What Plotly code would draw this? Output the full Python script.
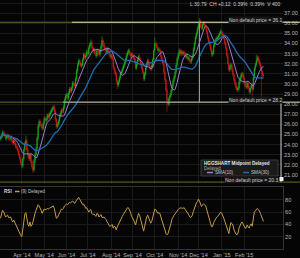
import numpy as np
import pandas as pd
import plotly.graph_objects as go

# ---------------- data ----------------
start_date = "2014-03-03"
first_open = 24.6
closes = [
    24.7, 24.9, 25.2, 25.1, 24.9, 24.6, 24.8, 24.9, 24.6, 24.6,
    24.7, 24.4, 24.2, 24.4, 24.1, 23.8, 23.7, 23.4, 23.0, 22.6,
    22.2, 21.9, 22.6, 23.5, 24.1, 24.4, 23.5, 22.9, 22.6, 23.0,
    22.3, 21.8, 21.5, 22.4, 23.0, 23.6, 24.6, 25.8, 26.3, 26.0,
    25.8, 25.6, 26.1, 26.6, 26.4, 26.5, 26.9, 26.7, 27.0, 27.2,
    27.4, 27.6, 27.7, 27.3, 26.5, 25.8, 26.0, 26.3, 26.8, 27.1,
    27.4, 27.3, 27.7, 28.4, 28.8, 28.9, 28.6, 29.1, 29.5, 29.3,
    29.6, 30.1, 30.0, 29.8, 30.5, 31.3, 31.9, 32.3, 32.1, 31.8,
    31.9, 32.4, 32.9, 32.6, 32.8, 33.2, 33.0, 33.6, 33.9, 34.1,
    33.6, 33.3, 33.4, 33.0, 32.8, 33.3, 33.2, 32.9, 33.3, 33.7,
    34.3, 34.0, 33.6, 33.4, 33.1, 33.5, 33.2, 32.9, 32.7, 32.8,
    32.5, 31.6, 31.3, 31.0, 30.3, 29.9, 30.2, 30.6, 31.0, 31.2,
    31.5, 31.8, 32.1, 32.4, 32.8, 33.1, 33.3, 33.0, 32.8, 32.9,
    32.8, 32.6, 32.3, 31.6, 32.0, 32.4, 32.7, 32.4, 32.0, 31.6,
    31.2, 30.5, 31.0, 31.6, 32.0, 32.3, 31.9, 31.6, 31.5, 31.8,
    32.4, 33.3, 34.0, 33.9, 33.6, 33.3, 33.4, 33.2, 32.7, 32.3,
    32.0, 31.2, 30.4, 29.4, 28.4, 28.0, 28.6, 28.9, 29.3, 29.8,
    30.3, 30.7, 31.2, 31.9, 32.5, 32.9, 33.3, 33.0, 33.2, 33.0,
    33.1, 33.0, 32.7, 32.8, 32.5, 32.6, 32.3, 32.2, 32.5, 32.8,
    33.4, 34.0, 34.6, 35.0, 35.5, 35.9, 36.2, 35.7, 35.5, 35.9,
    36.0, 35.8, 35.6, 35.1, 34.6, 34.2, 33.9, 33.4, 32.9, 33.1,
    33.8, 34.2, 34.4, 34.5, 34.6, 34.8, 35.0, 35.2, 35.0, 34.8,
    34.5, 34.0, 33.5, 32.8, 32.0, 31.4, 31.7, 31.9, 31.4, 30.9,
    30.4, 30.0, 29.6, 29.4, 29.6, 30.2, 30.6, 30.9, 31.0, 30.6,
    30.1, 29.8, 29.7, 30.1, 29.6, 29.2, 29.6, 29.9, 29.5, 30.6,
    31.5, 31.9, 32.3, 32.6, 32.3, 32.0, 31.6, 31.2, 30.9, 30.79,
]
high_spikes = {25: 24.9, 89: 34.4, 100: 34.7, 152: 34.6, 196: 36.5, 252: 32.9}
low_spikes = {32: 21.2, 115: 29.5, 164: 27.2, 248: 28.4, 257: 28.7}
rsi_values = [
    50, 56, 63, 61, 57, 52, 54, 55, 51, 51,
    52, 47, 44, 47, 43, 39, 37, 33, 28, 25,
    22, 20, 33, 50, 57, 59, 47, 40, 37, 44,
    37, 39, 44, 53, 58, 63, 70, 72, 70, 67,
    63, 58, 62, 65, 64, 64, 66, 65, 66, 67,
    69, 70, 70, 66, 57, 50, 51, 54, 59, 62,
    65, 64, 66, 70, 72, 73, 72, 74, 76, 75,
    76, 78, 76, 74, 77, 80, 82, 84, 81, 78,
    73, 72, 73, 69, 66, 67, 64, 60, 63, 64,
    58, 56, 57, 54, 53, 58, 57, 52, 55, 56,
    51, 51, 52, 50, 48, 44, 42, 38, 37, 38,
    40, 34, 37, 36, 31, 36, 40, 43, 47, 50,
    53, 56, 59, 62, 66, 67, 67, 64, 60, 54,
    51, 47, 44, 39, 47, 54, 58, 55, 47, 39,
    34, 29, 37, 46, 52, 55, 50, 44, 42, 45,
    52, 60, 65, 64, 61, 58, 59, 58, 52, 47,
    44, 37, 31, 25, 23, 25, 30, 36, 42, 49,
    53, 55, 57, 60, 63, 64, 66, 67, 67, 66,
    67, 67, 64, 62, 60, 57, 54, 51, 52, 55,
    61, 66, 72, 75, 77, 81, 78, 74, 69, 72,
    73, 72, 71, 65, 58, 51, 46, 41, 36, 37,
    43, 47, 50, 52, 53, 55, 58, 60, 58, 55,
    50, 45, 40, 34, 29, 25, 36, 43, 41, 39,
    31, 27, 24, 23, 26, 34, 39, 42, 44, 40,
    36, 34, 34, 39, 36, 34, 39, 41, 37, 50,
    60, 62, 64, 66, 64, 62, 58, 53, 49, 45,
]
tick_months = ["2014-04", "2014-05", "2014-06", "2014-07", "2014-08", "2014-09",
               "2014-10", "2014-11", "2014-12", "2015-01", "2015-02"]
tick_labels = ["Apr '14", "May '14", "Jun '14", "Jul '14", "Aug '14", "Sep '14",
               "Oct '14", "Nov '14", "Dec '14", "Jan '15", "Feb '15"]
price_ticks = list(range(21, 39))
rsi_ticks = [20, 40, 60, 80]
price_levels = [36.1, 28.2, 20.3]
level_labels = ["Non default price = 36.1", "Non default price = 28.2", "Non default price = 20.3"]
quote_text = "L 30.79  CH +0.12  0.39%  0.39%  V 400"
title_text = "HGGSHART Midpoint Delayed"

# ---------------- derived ----------------
n = len(closes)
dates = pd.bdate_range(start_date, periods=n)
idx = list(range(n))
opens = [first_open] + closes[:-1]
highs = [high_spikes.get(i, max(o, c) + 0.2) for i, (o, c) in enumerate(zip(opens, closes))]
lows = [low_spikes.get(i, min(o, c) - 0.2) for i, (o, c) in enumerate(zip(opens, closes))]
s = pd.Series(closes)
sma10 = s.rolling(10, min_periods=1).mean()
sma30 = s.rolling(30, min_periods=1).mean()
month_keys = np.array(dates.strftime("%Y-%m"))
tick_idx = [int(np.argmax(month_keys == m)) for m in tick_months]

W, H = 300, 258
def px(x):
    return x / W
def py(y):
    return 1 - y / H

GREEN = "#21c321"
RED = "#e5231b"
PURPLE = "#9b7fcc"
BLUE = "#1d6db2"
GOLD = "#c39b48"
GRID = "#1b1b1b"
TXT = "#b9b9b9"
FONT = "Liberation Sans, Arial, sans-serif"

fig = go.Figure()
fig.add_trace(go.Candlestick(
    x=idx, open=opens, high=highs, low=lows, close=closes,
    increasing=dict(line=dict(color=GREEN, width=0.5), fillcolor=GREEN),
    decreasing=dict(line=dict(color=RED, width=0.5), fillcolor=RED),
    whiskerwidth=0, showlegend=False, hoverinfo="skip",
    xaxis="x", yaxis="y"))
fig.add_trace(go.Scatter(x=idx, y=sma10, mode="lines", line=dict(color=PURPLE, width=1),
                         showlegend=False, xaxis="x", yaxis="y"))
fig.add_trace(go.Scatter(x=idx, y=sma30, mode="lines", line=dict(color=BLUE, width=1.3),
                         showlegend=False, xaxis="x", yaxis="y"))
fig.add_trace(go.Scatter(x=idx, y=rsi_values, mode="lines", line=dict(color=GOLD, width=1),
                         showlegend=False, xaxis="x2", yaxis="y2"))

xdom = [0, 283 / W]
xrange_ = [-0.5, 278.3]

shapes = []
for lv in price_levels:
    shapes.append(dict(type="line", xref="paper", yref="y", x0=0, x1=1, y0=lv, y1=lv,
                       line=dict(color="#6e6a2b", width=1), layer="above"))
shapes.append(dict(type="line", xref="paper", yref="y", x0=px(72), x1=1, y0=price_levels[0], y1=price_levels[0],
                   line=dict(color="#d8d5b4", width=1), layer="above"))
shapes.append(dict(type="line", xref="paper", yref="y", x0=px(63), x1=1, y0=price_levels[1], y1=price_levels[1],
                   line=dict(color="#b3b3b3", width=1), layer="above"))
shapes.append(dict(type="line", xref="x", yref="y", x0=196, x1=196, y0=price_levels[1], y1=price_levels[0],
                   line=dict(color="#9a9a9a", width=1), layer="above"))
shapes.append(dict(type="line", xref="paper", yref="y", x0=px(281), x1=px(281), y0=price_levels[2], y1=price_levels[1],
                   line=dict(color="#d0d0d0", width=1), layer="above"))
shapes.append(dict(type="rect", xref="paper", yref="paper", x0=px(279.5), x1=px(283.5), y0=py(181), y1=py(177),
                   fillcolor="#f0f0f0", line=dict(width=0), layer="above"))
shapes.append(dict(type="rect", xref="paper", yref="paper", x0=px(201), x1=px(278), y0=py(176), y1=py(160),
                   fillcolor="#1a1a1a", line=dict(color="#3a3a3a", width=1), layer="above"))
shapes.append(dict(type="line", xref="paper", yref="paper", x0=px(207), x1=px(213), y0=py(172.5), y1=py(172.5),
                   line=dict(color=PURPLE, width=1.5), layer="above"))
shapes.append(dict(type="line", xref="paper", yref="paper", x0=px(243), x1=px(249), y0=py(172.5), y1=py(172.5),
                   line=dict(color=BLUE, width=1.5), layer="above"))
shapes.append(dict(type="line", xref="paper", yref="paper", x0=px(15), x1=px(19.5), y0=py(191.5), y1=py(191.5),
                   line=dict(color=GOLD, width=1.5), layer="above"))

ann = []
def text(x, y, t, size=5, color=TXT, xanchor="left", bg=None, bold=False):
    ann.append(dict(x=px(x), y=py(y), xref="paper", yref="paper", text=(f"<b>{t}</b>" if bold else t),
                    showarrow=False, xanchor=xanchor, yanchor="middle",
                    font=dict(size=size, color=color, family=FONT),
                    bgcolor=bg, borderpad=0))

text(282, 3.5, quote_text, size=5, color="#d0d0d0", xanchor="right")
text(283, 19.5, level_labels[0], size=5, color="#cfcfcf", xanchor="right", bg="#151515")
text(283, 99.5, level_labels[1], size=5, color="#cfcfcf", xanchor="right", bg="#151515")
text(279, 179.5, level_labels[2], size=5, color="#cfcfcf", xanchor="right", bg="#151515")
text(203, 163.5, title_text, size=4.6, color="#e6e6e6", bold=True)
text(203, 168, "Delayed", size=4.6, color="#a8a8a8")
text(214, 172.5, "SMA(10)", size=4.6, color="#c8c8c8")
text(250, 172.5, "SMA(30)", size=4.6, color="#c8c8c8")
text(3, 191.5, "RSI", size=4.6, color="#d8d8d8", bold=True)
text(20, 191.5, "(9) Delayed", size=4.6, color="#c8c8c8")

fig.update_layout(
    width=W, height=H, margin=dict(l=0, r=0, t=0, b=0),
    paper_bgcolor="#050505", plot_bgcolor="#050505",
    showlegend=False, shapes=shapes, annotations=ann,
    xaxis=dict(domain=xdom, range=xrange_, anchor="y", tickvals=tick_idx, showticklabels=False,
               showgrid=True, gridcolor=GRID, zeroline=False, rangeslider=dict(visible=False),
               ticks="", showline=False),
    yaxis=dict(domain=[py(184), 1], range=[20.11, 38.3], anchor="x", side="right",
               tickvals=price_ticks, ticktext=[f"{v:.2f}" for v in price_ticks],
               tickfont=dict(size=5.5, color=TXT, family=FONT), showgrid=True, gridcolor=GRID,
               zeroline=False, ticks="", showline=False),
    xaxis2=dict(domain=xdom, range=xrange_, anchor="y2", tickvals=tick_idx, ticktext=tick_labels,
                tickangle=0, tickfont=dict(size=5.5, color=TXT, family=FONT), showgrid=True, gridcolor=GRID,
                zeroline=False, ticks="", showline=True, linecolor="#333333", mirror=True),
    yaxis2=dict(domain=[py(249), py(187)], range=[0, 100.8], anchor="x2", side="right",
                tickvals=rsi_ticks, tickfont=dict(size=5.5, color=TXT, family=FONT),
                showgrid=True, gridcolor=GRID, zeroline=False, ticks="",
                showline=True, linecolor="#333333", mirror=True),
)

fig.write_html("out.html")
